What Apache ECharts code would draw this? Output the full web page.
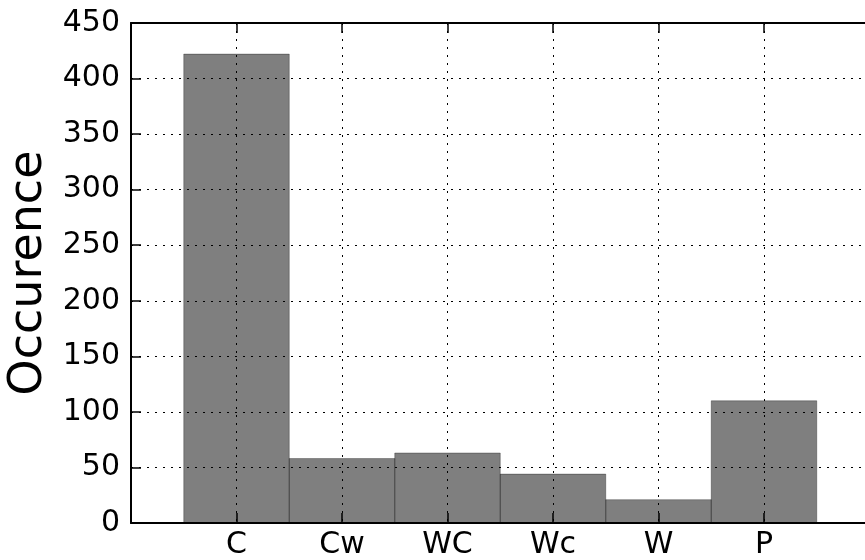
<!DOCTYPE html>
<html>
<head>
<meta charset="utf-8">
<script src="https://cdn.jsdelivr.net/npm/echarts@6/dist/echarts.min.js"></script>
<style>
  html, body { margin: 0; padding: 0; background: #fff; overflow: hidden; }
  #chart { width: 865px; height: 560px; }
</style>
</head>
<body>
<div id="chart"></div>
<script>
// histogram of occurences per class
var categories = ['C', 'Cw', 'WC', 'Wc', 'W', 'P'];
var counts = [422, 58, 63, 44, 21, 110];
var yTicks = [0, 50, 100, 150, 200, 250, 300, 350, 400, 450];

var barData = categories.map(function (name, i) {
    return [i + 1, counts[i]];
});

var font = 'DejaVu Sans';
var dotted = { color: '#000', width: 1, type: [2, 6] };
var tick = { show: true, inside: true, length: 10, lineStyle: { color: '#000', width: 1.5 } };
var spine = { show: true, lineStyle: { color: '#000', width: 2 } };

var chart = echarts.init(document.getElementById('chart'));

chart.setOption({
    animation: false,
    backgroundColor: '#fff',
    grid: {
        left: 131, top: 23, width: 738.5, height: 500,
        containLabel: false, outerBoundsMode: 'none'
    },
    xAxis: [{
        type: 'value', min: 0, max: 7, interval: 1,
        axisLine: spine,
        axisTick: tick,
        axisLabel: {
            margin: 7, color: '#000', fontFamily: font, fontSize: 30,
            formatter: function (v) { return categories[v - 1] || ''; }
        },
        splitLine: { show: true, lineStyle: dotted }
    }, {
        // top spine with inward ticks
        type: 'value', position: 'top', min: 0, max: 7, interval: 1,
        axisLine: spine,
        axisTick: tick,
        axisLabel: { show: false },
        splitLine: { show: false }
    }],
    yAxis: {
        type: 'value', min: 0, max: 450, interval: 50,
        name: 'Occurence', nameLocation: 'middle', nameGap: 78,
        nameTextStyle: { color: '#000', fontFamily: font, fontSize: 46 },
        axisLine: spine,
        axisTick: tick,
        axisLabel: {
            margin: 11, color: '#000', fontFamily: font, fontSize: 30,
            formatter: function (v) { return yTicks.indexOf(v) >= 0 ? String(v) : ''; }
        },
        splitLine: { show: true, lineStyle: dotted }
    },
    series: [{
        type: 'custom',
        xAxisIndex: 0,
        data: barData,
        renderItem: function (params, api) {
            var x = api.value(0), y = api.value(1);
            var p0 = api.coord([x - 0.5, y]);
            var p1 = api.coord([x + 0.5, 0]);
            return {
                type: 'rect',
                shape: { x: p0[0], y: p0[1], width: p1[0] - p0[0], height: p1[1] - p0[1] },
                style: { fill: 'rgba(0,0,0,0.5)', stroke: 'rgba(0,0,0,0.3)', lineWidth: 1 }
            };
        }
    }]
});
</script>
</body>
</html>
